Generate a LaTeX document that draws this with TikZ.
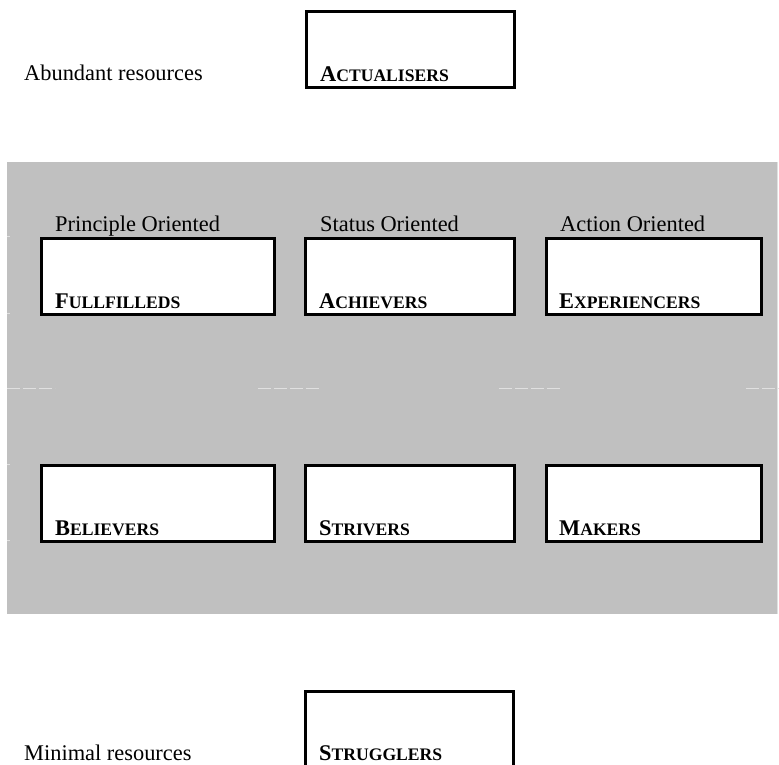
\documentclass[tikz,border=0pt]{standalone}
\usepackage{fontspec}
\setmainfont{Liberation Serif}
\definecolor{panel}{RGB}{192,192,192}
\definecolor{gridline}{RGB}{224,224,224}
% bold label with a full-size initial and reduced capitals for the rest
\newcommand\capname[2]{\textbf{\fontsize{22.4}{26}\selectfont #1\fontsize{17.6}{20}\selectfont #2}}
\begin{document}
\begin{tikzpicture}[x=1pt,y=-1pt,
  cell/.style={draw=black,line width=2.6pt,fill=white,rectangle,inner sep=0pt,
               anchor=north west,minimum height=76pt},
  txt/.style={anchor=base west,inner sep=0pt,font=\fontsize{22.4}{26}\selectfont},
  lbl/.style={anchor=base west,inner sep=0pt},
  seam/.style={draw=gridline,line width=1pt,dash pattern=on 12.5pt off 3.5pt}]
\clip (0,0) rectangle (779,765);
\fill[white] (0,0) rectangle (779,765);

% top tier
\node[txt] (abundant) at (24,81) {Abundant resources};
\node[cell,minimum width=208pt] (actualisers) at (305,10) {};
\node[lbl] (actualiserslbl) at (320,82) {\capname{A}{CTUALISERS}};

% shaded middle band
\fill[panel] (7,162) rectangle (777,614);
\draw[gridline,line width=1pt] (777.5,162) -- (777.5,614);
\foreach \ya in {236,313,464,540}{\draw[gridline,line width=1pt] (7,\ya) -- (10,\ya);}
\draw[seam] (7,388) -- (55,388);
\draw[seam] (258,388) -- (319,388);
\draw[seam] (499,388) -- (560,388);
\draw[seam] (746,388) -- (779,388);

% column headings
\node[txt] (principle) at (55,231) {Principle Oriented};
\node[txt] (status) at (320,231) {Status Oriented};
\node[txt] (action) at (560,231) {Action Oriented};

% first row
\node[cell,minimum width=233pt] (fullfilleds) at (40,237) {};
\node[cell,minimum width=209pt] (achievers) at (304,237) {};
\node[cell,minimum width=215pt] (experiencers) at (545,237) {};
\node[lbl] (fullfilledslbl) at (55,308) {\capname{F}{ULLFILLEDS}};
\node[lbl] (achieverslbl) at (319,308) {\capname{A}{CHIEVERS}};
\node[lbl] (experiencerslbl) at (559,308) {\capname{E}{XPERIENCERS}};

% second row
\node[cell,minimum width=233pt] (believers) at (40,464) {};
\node[cell,minimum width=209pt] (strivers) at (304,464) {};
\node[cell,minimum width=215pt] (makers) at (545,464) {};
\node[lbl] (believerslbl) at (55,535) {\capname{B}{ELIEVERS}};
\node[lbl] (striverslbl) at (319,535) {\capname{S}{TRIVERS}};
\node[lbl] (makerslbl) at (559,535) {\capname{M}{AKERS}};

% bottom tier
\node[txt] (minimal) at (24,760) {Minimal resources};
\node[cell,minimum width=208pt,minimum height=110pt] (strugglers) at (304,690) {};
\node[lbl] (struggerslbl) at (319,760) {\capname{S}{TRUGGLERS}};
\end{tikzpicture}
\end{document}
